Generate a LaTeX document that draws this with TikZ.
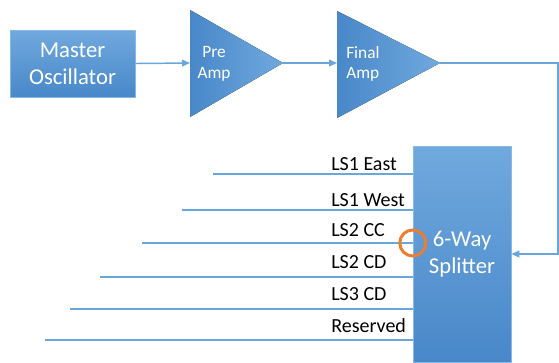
\documentclass[tikz,border=0pt]{standalone}
\usepackage{fontspec}
\setmainfont{Carlito}
\usetikzlibrary{positioning, arrows.meta, shapes.geometric}
\tikzset{>={Triangle[length=6pt, width=5pt]}}
\definecolor{bluetop}{HTML}{70A9DD}
\definecolor{bluebot}{HTML}{4887C9}
\definecolor{wireblue}{HTML}{6AA6DE}
\definecolor{ringorange}{HTML}{ED7D31}

\begin{document}
\begin{tikzpicture}[
    x=0.75pt, y=-0.75pt,
    block/.style={draw=wireblue!80, line width=0.4pt, top color=bluetop,
                  bottom color=bluebot, text=white, align=center,
                  inner sep=0pt, font=\fontsize{17}{20}\selectfont},
    amp/.style={left color=bluebot, right color=bluetop},
    amptext/.style={text=white, inner sep=0pt,
                    font=\fontsize{13}{15.5}\selectfont},
    wire/.style={draw=wireblue, line width=1.1pt},
    sig/.style={wire, ->},
    lslabel/.style={anchor=base west, inner sep=0pt,
                    font=\fontsize{15}{18}\selectfont},
    ring/.style={circle, draw=ringorange, line width=2.25pt,
                 minimum size=19.5pt, inner sep=0pt},
  ]
  \useasboundingbox (0,0) rectangle (559,362);

  % oscillator and amplifier chain
  \node[block, minimum width=93.75pt, minimum height=50.25pt] (osc)
    at (72.5,63.5) {Master\\Oscillator};
  \fill[amp] (190,10) -- (283,63) -- (190,117) -- cycle;
  \fill[amp] (337,11) -- (440,63) -- (337,118) -- cycle;
  \coordinate (pre in)  at (190,63);
  \coordinate (pre out) at (283,63);
  \coordinate (fin in)  at (337,63);
  \coordinate (fin out) at (440,63);
  \node[amptext, align=center] (pre) at (214,64) {Pre\\Amp};
  \node[amptext, align=left, anchor=west] (fin) at (346,64) {Final\\Amp};

  % splitter
  \node[block, minimum width=73.5pt, minimum height=162pt] (split)
    at (462,254) {6-Way\\Splitter};

  \draw[sig] (osc.east) -- (pre in);
  \draw[sig] (pre out) -- (fin in);
  \draw[sig] (fin out) -- ++(118,0) |- (split.east);

  % outputs
  \foreach \n/\x/\y/\b/\lbl in {1/213/174/170.5/LS1 East,
                                2/182/210/206.5/LS1 West,
                                3/142/243/236.5/LS2 CC,
                                4/100/277/268.5/LS2 CD,
                                5/70/309/300.5/LS3 CD,
                                6/45/340/332.5/Reserved} {
    \coordinate (feed\n) at (\x,\y);
    \draw[wire] (feed\n) -- (feed\n -| split.west);
    \node[lslabel] (out\n) at (331,\b) {\lbl};
  }
  \node[ring] (probe) at (split.west |- feed3) {};
\end{tikzpicture}
\end{document}
